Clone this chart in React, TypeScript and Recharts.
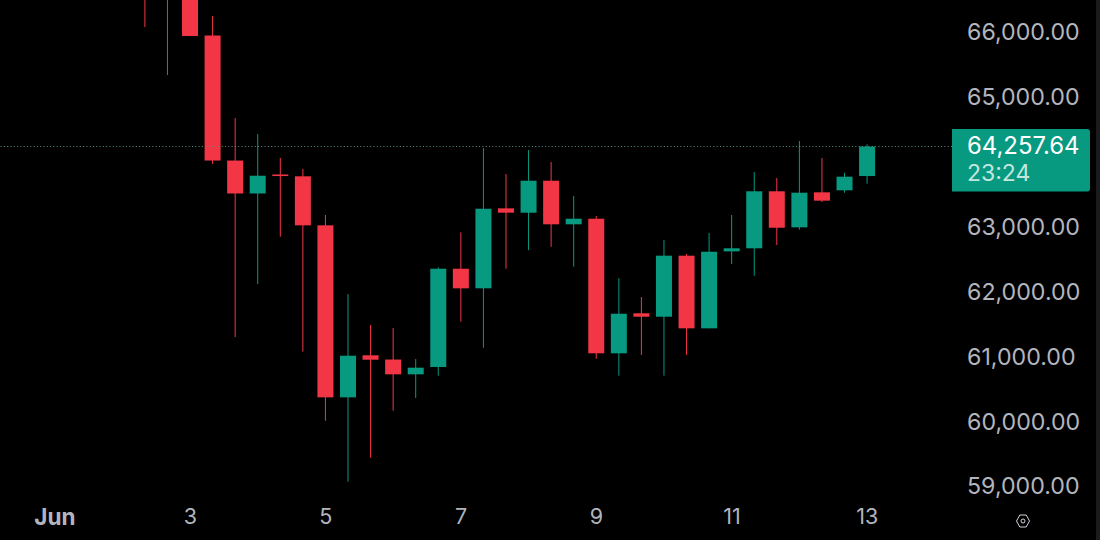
import React from "react";
import { ComposedChart, Bar, XAxis, YAxis, ReferenceLine } from "recharts";

const hours = [32, 40, 48, 56, 64, 72, 80, 88, 96, 104, 112, 120, 128, 136, 144, 152, 160, 168, 176, 184, 192, 200, 208, 216, 224, 232, 240, 248, 256, 264, 272, 280, 288];
const opens = [66850, 66600, 66850, 65969, 64041, 63533, 63826, 63798, 63042, 60390, 61038, 60973, 60745, 60858, 62373, 62071, 63304, 63237, 63730, 63058, 63144, 61069, 61686, 61633, 62574, 61454, 62641, 62688, 63567, 63011, 63551, 63582, 63802];
const closes = [66600, 66850, 65961, 64041, 63533, 63807, 63802, 63042, 60390, 61032, 60970, 60745, 60847, 62373, 62071, 63298, 63237, 63730, 63058, 63144, 61069, 61679, 61633, 62574, 61454, 62635, 62688, 63567, 63005, 63545, 63422, 63792, 64257.64];
const highs = [67000, 67000, 66900, 66270, 64697, 64450, 64080, 63910, 63201, 61983, 61505, 61459, 60981, 62395, 62934, 64234, 63833, 64203, 64018, 63494, 63186, 62225, 61937, 62816, 62600, 62924, 63201, 63864, 63772, 64342, 64080, 63853, 64291];
const lows = [66100, 65360, 65961, 63988, 61320, 62137, 62867, 61094, 60030, 59089, 59459, 60184, 60380, 60724, 61556, 61155, 62373, 62661, 62712, 62404, 60986, 60724, 61043, 60724, 61043, 61454, 62446, 62265, 62739, 62975, 63402, 63545, 63684];

const priceTicks = [59000, 60000, 61000, 62000, 63000, 65000, 66000];
const timeTicks = [0, 48, 96, 144, 192, 240, 288];
const timeLabels = ["Jun", "3", "5", "7", "9", "11", "13"];
const lastPrice = 64257.64;
const lastPriceLabel = "64,257.64";
const countdownLabel = "23:24";

const UP = "#089981";
const DOWN = "#f23645";
const TEXT = "#b2b5be";
const FONT = "Inter, Roboto, sans-serif";

const rows = hours.map((h, i) => ({
  h,
  open: opens[i],
  close: closes[i],
  high: highs[i],
  low: lows[i],
  range: [lows[i], highs[i]],
}));

function Candle(props: any) {
  const { x, y, width, height, payload } = props;
  const { open, close, high, low } = payload;
  const perUnit = height / (high - low);
  const cx = x + width / 2;
  const color = close >= open ? UP : DOWN;
  const top = y + (high - Math.max(open, close)) * perUnit;
  const bodyH = Math.max(Math.abs(open - close) * perUnit, 1);
  return (
    <g>
      <line x1={cx} x2={cx} y1={y} y2={y + height} stroke={color} strokeWidth={1} />
      <rect x={cx - 8} y={top} width={16} height={bodyH} fill={color} />
    </g>
  );
}

function XTick(props: any) {
  const { x, y, payload } = props;
  const i = timeTicks.indexOf(payload.value);
  return (
    <text x={x} y={y} textAnchor="middle" dominantBaseline="central" fontFamily={FONT} fontSize={i === 0 ? 22.5 : 21.5} fontWeight={i === 0 ? 700 : 400} fill={TEXT}>
      {timeLabels[i]}
    </text>
  );
}

function YTick(props: any) {
  const { x, y, payload } = props;
  return (
    <text x={x} y={y - 1} textAnchor="start" dominantBaseline="central" fontFamily={FONT} fontSize={23.2} fill={TEXT}>
      {payload.value.toLocaleString("en-US", { minimumFractionDigits: 2, maximumFractionDigits: 2 })}
    </text>
  );
}

function PriceTag(props: any) {
  const { viewBox } = props;
  const left = viewBox.x + viewBox.width;
  const cy = viewBox.y;
  return (
    <g>
      <path d={`M${left} ${cy - 17.5} H${left + 135} a3 3 0 0 1 3 3 V${cy + 42} a3 3 0 0 1 -3 3 H${left} Z`} fill={UP} />
      <text x={left + 15} y={cy - 1} dominantBaseline="central" fontFamily={FONT} fontSize={23.9} fill="#ffffff">{lastPriceLabel}</text>
      <text x={left + 15} y={cy + 26.5} dominantBaseline="central" fontFamily={FONT} fontSize={23} fill="#c4e6df">{countdownLabel}</text>
    </g>
  );
}

export default function App() {
  return (
    <div style={{ position: "fixed", left: 0, top: 0, width: 1100, height: 540, background: "#000", overflow: "hidden" }}>
      <ComposedChart width={1100} height={540} data={rows} margin={{ top: 0, right: 0, bottom: 0, left: 0 }}>
        <XAxis dataKey="h" type="number" domain={[-19.46, 318]} ticks={timeTicks} interval={0} axisLine={false} tickLine={false} height={30} tickMargin={0} tick={<XTick />} allowDataOverflow />
        <YAxis orientation="right" type="number" domain={[58653, 66516.3]} ticks={priceTicks} interval={0} axisLine={false} tickLine={false} width={148} tick={<YTick />} tickMargin={9} allowDataOverflow />
        <ReferenceLine y={lastPrice} stroke="#5c8f84" strokeWidth={1} strokeDasharray="1 2.3" label={<PriceTag />} ifOverflow="visible" />
        <Bar dataKey="range" barSize={16} isAnimationActive={false} shape={<Candle />} />
      </ComposedChart>
      <svg width={40} height={40} style={{ position: "absolute", left: 1003, top: 501 }}>
        <path d="M13.5 20 L16.8 14 H23.2 L26.5 20 L23.2 26 H16.8 Z" fill="none" stroke="#d1d4dc" strokeWidth={1} />
        <circle cx={20} cy={20} r={2} fill="none" stroke="#d1d4dc" strokeWidth={1} />
      </svg>
      <div style={{ position: "absolute", left: 1096, top: 0, width: 4, height: 540, background: "#1c1c1c" }} />
    </div>
  );
}
